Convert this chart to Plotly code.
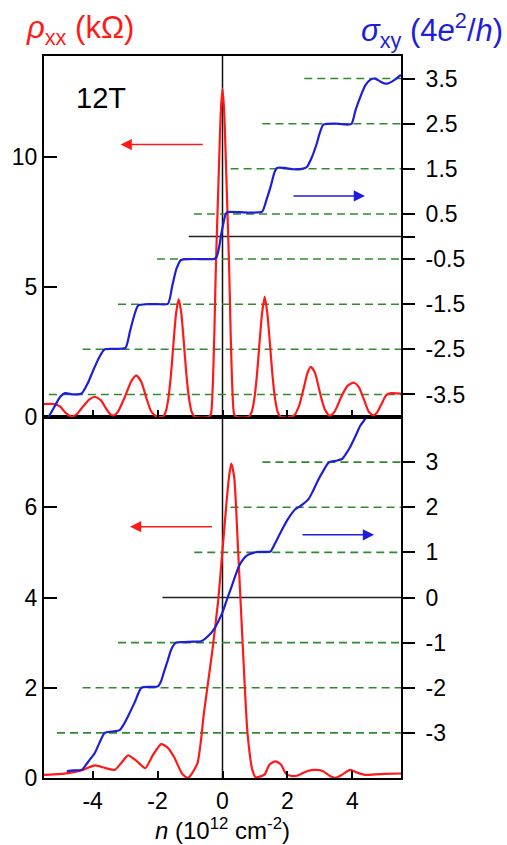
import plotly.graph_objects as go

# ---------------- data ----------------
# top panel (12 T): rho_xx (kOhm) vs n (1e12 cm^-2)
top_rho_n = [-5.5, -5.2, -5.0, -4.85, -4.65, -4.5, -4.3, -4.1, -3.93, -3.75,
             -3.6, -3.45, -3.35, -3.2, -3.0, -2.8, -2.65, -2.5, -2.35, -2.2,
             -2.05, -1.95,
             -1.85, -1.75, -1.67, -1.59, -1.51, -1.43, -1.35, -1.27, -1.19, -1.11, -1.03, -0.95, -0.85,
             -0.44, -0.36, -0.3, -0.25, -0.21, -0.17, -0.13, -0.09, -0.05, 0.0,
             0.05, 0.09, 0.13, 0.17, 0.21, 0.25, 0.3, 0.36, 0.44,
             0.8, 0.9, 0.98, 1.06, 1.14, 1.22, 1.3, 1.38, 1.46, 1.54, 1.62, 1.7, 1.8,
             2.2, 2.35, 2.5, 2.62, 2.72, 2.85, 3.0, 3.15, 3.3, 3.45,
             3.65, 3.85, 4.05, 4.2, 4.35, 4.5, 4.64, 4.75, 4.9, 5.05,
             5.2, 5.5]
top_rho = [0.5, 0.5, 0.4, 0.18, 0.02, 0.1, 0.4, 0.68, 0.78, 0.65,
           0.35, 0.1, 0.06, 0.25, 0.8, 1.4, 1.59, 1.35, 0.75, 0.22,
           0.03, 0.0,
           0.0, 0.2, 0.7, 1.6, 2.85, 4.0, 4.54, 4.0, 2.85, 1.6, 0.7, 0.2, 0.0,
           0.0, 0.1, 1.2, 3.3, 5.5, 7.2, 8.8, 10.4, 11.8, 12.64,
           11.8, 10.4, 8.8, 7.2, 5.5, 3.3, 1.2, 0.1, 0.0,
           0.0, 0.2, 0.7, 1.6, 2.85, 4.0, 4.63, 4.0, 2.85, 1.6, 0.7, 0.2, 0.0,
           0.05, 0.4, 1.1, 1.7, 1.93, 1.7, 0.95, 0.3, 0.05, 0.2,
           0.75, 1.2, 1.32, 1.15, 0.7, 0.22, 0.06, 0.15, 0.5, 0.85,
           0.92, 0.9]

# top panel: sigma_xy (4e^2/h)
top_sig_n = [-5.36, -5.2, -5.0, -4.85, -4.6, -4.34, -4.15, -3.98, -3.8, -3.63,
             -3.3, -2.99, -2.85, -2.72, -2.6, -2.3, -2.0, -1.68, -1.55, -1.42,
             -1.28, -1.0, -0.6, -0.26, -0.18, -0.1, -0.05, 0.03, 0.1, 0.16,
             0.5, 0.9, 1.22, 1.35, 1.5, 1.6, 1.68, 1.9, 2.2, 2.45,
             2.6, 2.75, 2.9, 3.0, 3.11, 3.5, 3.85, 3.98, 4.1, 4.25,
             4.4, 4.55, 4.7, 4.85, 5.0, 5.1, 5.3, 5.5]
top_sig = [-4.0, -3.8, -3.55, -3.47, -3.5, -3.48, -3.25, -2.96, -2.68, -2.5,
           -2.49, -2.47, -2.1, -1.75, -1.53, -1.5, -1.5, -1.49, -1.1, -0.72,
           -0.52, -0.5, -0.5, -0.5, -0.45, -0.22, 0.0, 0.3, 0.5, 0.54,
           0.54, 0.53, 0.55, 0.8, 1.15, 1.42, 1.52, 1.52, 1.49, 1.5,
           1.54, 1.75, 2.05, 2.3, 2.48, 2.5, 2.48, 2.5, 2.8, 3.1,
           3.35, 3.47, 3.5, 3.44, 3.39, 3.39, 3.47, 3.58]

# bottom panel: rho_xx (kOhm)
bot_rho_n = [-5.5, -5.2, -4.75, -4.3, -3.93, -3.6, -3.32, -3.1, -2.91, -2.65,
             -2.38, -2.15, -1.89, -1.7, -1.48, -1.25, -1.07, -0.97, -0.77, -0.66,
             -0.58, -0.41, -0.31, -0.13, 0.0, 0.13, 0.2, 0.27, 0.36, 0.48,
             0.63, 0.77, 0.92, 1.02, 1.15, 1.3, 1.45, 1.63, 1.8, 1.95,
             2.09, 2.3, 2.6, 2.86, 3.1, 3.3, 3.47, 3.7, 3.93, 4.15,
             4.39, 4.7, 5.0, 5.5]
bot_rho = [0.07, 0.08, 0.11, 0.18, 0.28, 0.22, 0.18, 0.35, 0.5, 0.38,
           0.22, 0.5, 0.75, 0.68, 0.45, 0.1, 0.0, 0.07, 0.33, 0.85,
           1.4, 2.3, 2.84, 3.95, 5.05, 6.16, 6.67, 6.97, 6.67, 5.05,
           2.84, 1.0, 0.18, 0.02, 0.03, 0.08, 0.3, 0.37, 0.3, 0.1,
           0.05, 0.05, 0.15, 0.18, 0.15, 0.05, 0.0, 0.08, 0.18, 0.12,
           0.07, 0.08, 0.09, 0.1]

# bottom panel: sigma_xy (4e^2/h)
bot_sig_n = [-4.8, -4.6, -4.34, -4.15, -3.93, -3.78, -3.63, -3.4, -3.17, -3.05,
             -2.91, -2.71, -2.5, -2.25, -1.99, -1.89, -1.79, -1.68, -1.58, -1.43,
             -1.2, -0.9, -0.66, -0.45, -0.26, -0.13, 0.0, 0.12, 0.25, 0.38,
             0.51, 0.65, 0.77, 0.95, 1.12, 1.3, 1.48, 1.62, 1.79, 2.0,
             2.25, 2.45, 2.65, 2.78, 2.91, 3.1, 3.27, 3.5, 3.68, 3.8,
             3.93, 4.1, 4.24, 4.44, 4.6]
bot_sig = [-3.85, -3.83, -3.82, -3.65, -3.44, -3.2, -3.0, -2.97, -2.94, -2.82,
           -2.63, -2.33, -2.0, -1.98, -1.97, -1.85, -1.62, -1.38, -1.15, -1.0,
           -0.99, -0.98, -0.97, -0.86, -0.7, -0.53, -0.33, -0.08, 0.18, 0.45,
           0.7, 0.86, 0.94, 0.99, 1.01, 1.01, 1.02, 1.2, 1.44, 1.72,
           1.96, 2.05, 2.18, 2.35, 2.55, 2.8, 2.99, 3.03, 3.07, 3.18,
           3.33, 3.58, 3.8, 4.0, 4.15]

assert len(top_rho_n) == len(top_rho)
assert len(top_sig_n) == len(top_sig)
assert len(bot_rho_n) == len(bot_rho)
assert len(bot_sig_n) == len(bot_sig)

# quantized plateau guide levels and where each dashed guide starts
top_levels = [3.5, 2.5, 1.5, 0.5, -0.5, -1.5, -2.5, -3.5]
top_level_start = [2.52, 1.23, 0.25, -0.88, -2.02, -3.22, -4.31, -5.35]
bot_levels = [4, 3, 2, 1, -1, -2, -3]
bot_level_start = [2.55, 1.23, 0.25, -0.87, -3.22, -4.31, -5.1]
top_zero_start = -1.04
bot_zero_start = -1.85

# tick labels (plain hyphen minus, as in the reference)
x_ticks = [-4, -2, 0, 2, 4]
x_tick_text = ["-4", "-2", "0", "2", "4"]
top_left_ticks = [0, 5, 10]
top_right_ticks = [-3.5, -2.5, -1.5, -0.5, 0, 0.5, 1.5, 2.5, 3.5]
top_right_text = ["-3.5", "-2.5", "-1.5", "-0.5", "", "0.5", "1.5", "2.5", "3.5"]
bot_left_ticks = [0, 2, 4, 6]
bot_right_ticks = [-3, -2, -1, 0, 1, 2, 3]
bot_right_text = ["-3", "-2", "-1", "0", "1", "2", "3"]

# ---------------- style ----------------
RED = "#ff1a1a"
BLUE = "#1e1ed8"
GREEN = "#2e8b2e"
FONT = "Liberation Sans, Arial, sans-serif"
XMIN, XMAX = -5.5, 5.5
TICK_SIZE = 23

fig = go.Figure()
fig.add_trace(go.Scatter(x=top_rho_n, y=top_rho, xaxis="x2", yaxis="y",
                         mode="lines", line=dict(color=RED, width=2.2, shape="spline", smoothing=0.6),
                         showlegend=False))
fig.add_trace(go.Scatter(x=top_sig_n, y=top_sig, xaxis="x2", yaxis="y2",
                         mode="lines", line=dict(color=BLUE, width=2.2, shape="spline", smoothing=0.6),
                         showlegend=False))
fig.add_trace(go.Scatter(x=bot_rho_n, y=bot_rho, xaxis="x", yaxis="y3",
                         mode="lines", line=dict(color=RED, width=2.2, shape="spline", smoothing=0.6),
                         showlegend=False))
fig.add_trace(go.Scatter(x=bot_sig_n, y=bot_sig, xaxis="x", yaxis="y4",
                         mode="lines", line=dict(color=BLUE, width=2.2, shape="spline", smoothing=0.6),
                         showlegend=False))

shapes = []
for lv, s in zip(top_levels, top_level_start):
    shapes.append(dict(type="line", xref="x2", yref="y2", x0=s, x1=XMAX, y0=lv, y1=lv,
                       line=dict(color=GREEN, width=1.6, dash="8px,5px"), layer="below"))
for lv, s in zip(bot_levels, bot_level_start):
    shapes.append(dict(type="line", xref="x", yref="y4", x0=s, x1=XMAX, y0=lv, y1=lv,
                       line=dict(color=GREEN, width=1.6, dash="8px,5px"), layer="below"))
shapes.append(dict(type="line", xref="x2", yref="y2", x0=top_zero_start, x1=XMAX, y0=0, y1=0,
                   line=dict(color="#222", width=1.5), layer="below"))
shapes.append(dict(type="line", xref="x", yref="y4", x0=bot_zero_start, x1=XMAX, y0=0, y1=0,
                   line=dict(color="#222", width=1.5), layer="below"))
shapes.append(dict(type="line", xref="x", yref="paper", x0=0, x1=0, y0=0, y1=1,
                   line=dict(color="#111", width=1.5), layer="below"))

def arrow(x_tail, x_head, yv, xref, yref, color):
    return dict(x=x_head, y=yv, ax=x_tail, ay=yv, xref=xref, yref=yref,
                axref=xref, ayref=yref, text="", showarrow=True,
                arrowhead=2, arrowsize=1.5, arrowwidth=1.5, arrowcolor=color)

annotations = [
    arrow(-0.56, -3.14, 10.49, "x2", "y", RED),
    arrow(2.14, 4.39, 0.9, "x2", "y2", BLUE),
    arrow(-0.28, -2.85, 5.57, "x", "y3", RED),
    arrow(2.42, 4.67, 1.39, "x", "y4", BLUE),
    dict(x=-3.73, y=12.27, xref="x2", yref="y", text="12T", showarrow=False,
         font=dict(size=29, color="black", family=FONT)),
    dict(x=-0.056, y=1.036, xref="paper", yref="paper", xanchor="left", yanchor="middle",
         text="<i>ρ</i><sub>xx</sub> (kΩ)", showarrow=False,
         font=dict(size=31, color=RED, family=FONT)),
    dict(x=1.29, y=1.036, xref="paper", yref="paper", xanchor="right", yanchor="middle",
         text="<i>σ</i><sub>xy</sub> (4<i>e</i><sup>2</sup>/<i>h</i>)", showarrow=False,
         font=dict(size=31, color=BLUE, family=FONT)),
    dict(x=0.5, y=0, xref="paper", yref="paper", xanchor="center", yanchor="bottom", yshift=-67,
         borderpad=0,
         text="<i>n</i> (10<sup>12</sup> cm<sup>-2</sup>)", showarrow=False,
         font=dict(size=24, color="black", family=FONT)),
]

axis_common = dict(showgrid=False, zeroline=False, showline=True, linecolor="black",
                   linewidth=2, tickcolor="black", tickwidth=2,
                   tickfont=dict(size=TICK_SIZE, color="black", family=FONT))

fig.update_layout(
    width=507, height=845,
    margin=dict(l=42, r=106, t=56, b=67),
    paper_bgcolor="white", plot_bgcolor="white",
    font=dict(family=FONT, color="black"),
    shapes=shapes, annotations=annotations,
    xaxis=dict(domain=[0, 1], anchor="y3", range=[XMIN, XMAX], tickvals=x_ticks,
               ticktext=x_tick_text,
               ticks="inside", ticklen=7, mirror=True, ticklabelstandoff=1, **axis_common),
    xaxis2=dict(domain=[0, 1], anchor="y", range=[XMIN, XMAX], matches="x", tickvals=x_ticks,
                ticks="inside", ticklen=7, mirror=True, showticklabels=False, **axis_common),
    yaxis=dict(domain=[0.5, 1], anchor="x2", range=[0, 13.9], tickvals=top_left_ticks,
               ticks="inside", ticklen=13, **axis_common),
    yaxis2=dict(overlaying="y", anchor="x2", side="right", range=[-4, 4],
                tickvals=top_right_ticks, ticktext=top_right_text,
                ticks="outside", ticklen=12, ticklabelstandoff=6, **axis_common),
    yaxis3=dict(domain=[0, 0.5], anchor="x", range=[0, 8], tickvals=bot_left_ticks,
                ticks="inside", ticklen=13, **axis_common),
    yaxis4=dict(overlaying="y3", anchor="x", side="right", range=[-4, 4],
                tickvals=bot_right_ticks, ticktext=bot_right_text,
                ticks="outside", ticklen=12, ticklabelstandoff=6, **axis_common),
)

fig.write_html("out.html")
